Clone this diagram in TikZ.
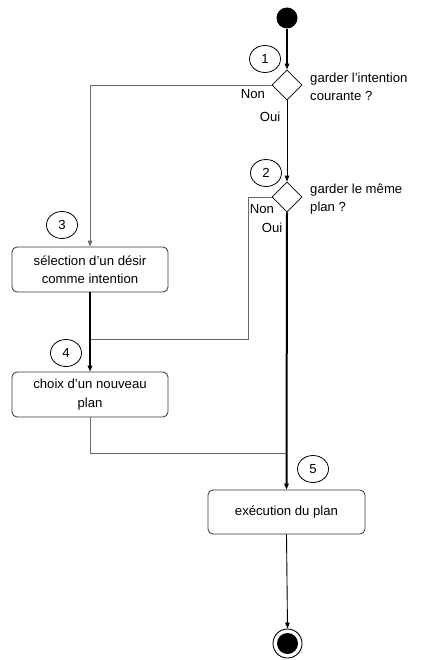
\documentclass[tikz,border=0pt]{standalone}
\usepackage{fontspec}
\setmainfont{Liberation Sans}
\usetikzlibrary{shapes.geometric,arrows.meta}
\definecolor{linegray}{RGB}{105,105,105}
\definecolor{boxgray}{RGB}{50,50,50}
\tikzset{
  every node/.style={font=\fontsize{13.2}{18.5}\selectfont},
  act/.style={draw=boxgray,line width=0.8bp,rounded corners=5bp,minimum width=156bp,minimum height=45bp,align=center,inner sep=2bp},
  dec/.style={draw=black,diamond,line width=0.8bp,minimum width=30bp,minimum height=30bp,inner sep=0pt},
  num/.style={draw=black,ellipse,line width=0.8bp,minimum width=31bp,minimum height=27bp,inner sep=0pt},
  arr/.style={-{Triangle[length=6bp,width=4.5bp]}},
  thinln/.style={line width=0.9bp,black},
  thickln/.style={line width=2bp,black},
  grayln/.style={line width=0.9bp,linegray},
  lbl/.style={inner sep=0pt},
}
\begin{document}
\begin{tikzpicture}[x=1bp,y=-1bp]
\useasboundingbox (0,0) rectangle (420,660);
% nodes
\node[circle,fill=black,minimum size=21bp,inner sep=0pt] (start) at (287,18) {};
\node[dec] (d1) at (287,85) {};
\node[dec] (d2) at (287,197) {};
\node[act] (b3) at (90,269.5) {sélection d’un désir\\comme intention};
\node[act] (b4) at (90,394.5) {choix d’un nouveau\\plan};
\node[act,minimum width=157bp,minimum height=44bp] (b5) at (286.5,512) {exécution du plan};
\node[circle,draw=black,line width=0.9bp,minimum size=29bp,inner sep=0pt] (end) at (287.5,643.5) {};
\fill[black] (end.center) circle (10.5bp);
% numbers
\node[num] (n1) at (265,59) {1};
\node[num] (n2) at (266,173) {2};
\node[num] (n3) at (62,225) {3};
\node[num] (n4) at (66,353) {4};
\node[num] (n5) at (313,469) {5};
% labels
\node[lbl,anchor=west,align=left] (q1) at (310,87) {garder l'intention\\courante ?};
\node[lbl,anchor=west,align=left] (q2) at (310,199) {garder le même\\plan ?};
\node[lbl] (non1) at (253,94) {Non};
\node[lbl] (oui1) at (270,117) {Oui};
\node[lbl] (non2) at (262,209) {Non};
\node[lbl] (oui2) at (272,228) {Oui};
% coordinates
\coordinate (c2) at (248,339);
\coordinate (m1) at (90,339);
\coordinate (m2) at (287,453);
% connectors
\draw[arr,line width=1.3bp] (start) -- (d1.north);
\draw[arr,thinln] (d1.south) -- (d2.north);
\draw[arr,grayln] (d1.west) -| (b3.north);
\draw[grayln] (d2.west) -| (c2) -- (m1);
\draw[arr,thickln] (b3.south) -- (b4.north);
\draw[grayln] (b4.south) |- (m2);
\draw[arr,thickln] (d2.south) -- (b5.north);
\draw[arr,thinln] (b5.south) -- (end.north);
\end{tikzpicture}
\end{document}
